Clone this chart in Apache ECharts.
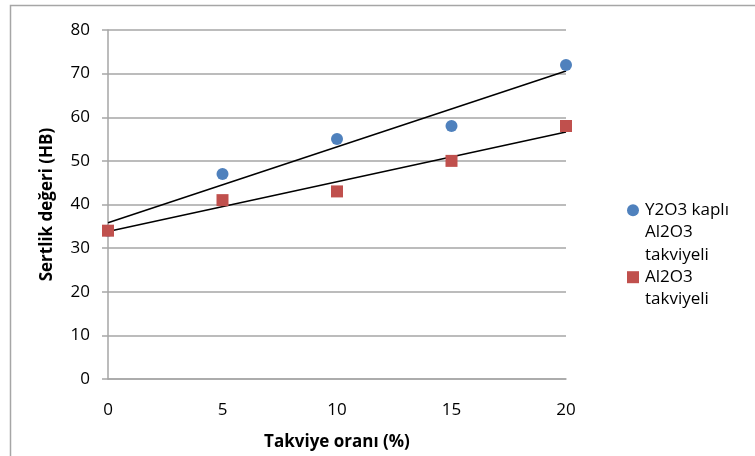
<!DOCTYPE html>
<html>
<head>
<meta charset="utf-8">
<script src="https://cdn.jsdelivr.net/npm/echarts@6/dist/echarts.min.js"></script>
<style>
  html, body { margin: 0; padding: 0; background: #fff; }
  #chart { width: 755px; height: 456px; }
</style>
</head>
<body>
<div id="chart"></div>
<script>
// Reinforcement ratio (%) on the x axis
const oran = [0, 5, 10, 15, 20];
// Hardness values (HB) for each composite
const y2o3Kapli = [34, 47, 55, 58, 72];
const al2o3 = [34, 41, 43, 50, 58];
const seriesNames = ['Y2O3 kaplı\nAl2O3\ntakviyeli', 'Al2O3\ntakviyeli'];
const colors = ['#4f81bd', '#c0504d'];

// Least-squares linear trend line through a series
function trend(xs, ys) {
  const n = xs.length;
  const mx = xs.reduce((a, b) => a + b, 0) / n;
  const my = ys.reduce((a, b) => a + b, 0) / n;
  let sxy = 0, sxx = 0;
  for (let i = 0; i < n; i++) {
    sxy += (xs[i] - mx) * (ys[i] - my);
    sxx += (xs[i] - mx) * (xs[i] - mx);
  }
  const b = sxy / sxx, a = my - b * mx;
  const x0 = Math.min(...xs), x1 = Math.max(...xs);
  return [[x0, a + b * x0], [x1, a + b * x1]];
}

const pairs = ys => oran.map((x, i) => [x, ys[i]]);
const font = '"Open Sans", "Liberation Sans", sans-serif';
const LH = 22.4;

// Legend: marker beside the first line of each multi-line entry
function legendEntry(top, name, color, shape) {
  const marker = shape === 'circle'
    ? { type: 'circle', shape: { cx: 633, cy: top + LH / 2, r: 6 }, style: { fill: color } }
    : { type: 'rect', shape: { x: 627, y: top + LH / 2 - 6, width: 12, height: 12 }, style: { fill: color } };
  return [marker, {
    type: 'text', left: 645, top: top,
    style: { text: name, font: '17px ' + font, fill: '#000', lineHeight: LH }
  }];
}

const chart = echarts.init(document.getElementById('chart'), null, { renderer: 'canvas' });
chart.setOption({
  animation: false,
  backgroundColor: '#fff',
  graphic: [{
    type: 'rect',
    shape: { x: 10.5, y: 5.5, width: 760, height: 470 },
    style: { fill: 'none', stroke: '#a6a6a6', lineWidth: 1.5 },
    silent: true
  }].concat(
    legendEntry(199, seriesNames[0], colors[0], 'circle'),
    legendEntry(266, seriesNames[1], colors[1], 'rect')
  ),
  grid: { left: 108, top: 30, width: 458, height: 351 },
  xAxis: {
    type: 'value', min: 0, max: 20, interval: 5,
    name: 'Takviye oranı (%)', nameLocation: 'middle', nameGap: 55,
    nameTextStyle: { fontFamily: font, fontSize: 17, fontWeight: 'bold', color: '#000' },
    axisLine: { show: true, lineStyle: { color: '#a6a6a6', width: 1.5 } },
    axisTick: { show: false },
    axisLabel: { fontFamily: font, fontSize: 17, color: '#000', margin: 23 },
    splitLine: { show: false }
  },
  yAxis: {
    type: 'value', min: 0, max: 80, interval: 10,
    name: 'Sertlik değeri (HB)', nameLocation: 'middle', nameGap: 52,
    nameTextStyle: { fontFamily: font, fontSize: 17, fontWeight: 'bold', color: '#000' },
    axisLine: { show: true, lineStyle: { color: '#a6a6a6', width: 1.5 } },
    axisTick: { show: true, length: 6, lineStyle: { color: '#a6a6a6', width: 1.5 } },
    axisLabel: { fontFamily: font, fontSize: 17, color: '#000', margin: 18 },
    splitLine: { show: true, lineStyle: { color: '#a6a6a6', width: 1.5 } }
  },
  series: [
    {
      type: 'line', data: trend(oran, y2o3Kapli), symbol: 'none',
      lineStyle: { color: '#000', width: 1.5 }, z: 2, silent: true
    },
    {
      type: 'line', data: trend(oran, al2o3), symbol: 'none',
      lineStyle: { color: '#000', width: 1.5 }, z: 2, silent: true
    },
    {
      name: seriesNames[0], type: 'scatter', data: pairs(y2o3Kapli),
      symbol: 'circle', symbolSize: 12,
      itemStyle: { color: colors[0], opacity: 1 }, z: 3
    },
    {
      name: seriesNames[1], type: 'scatter', data: pairs(al2o3),
      symbol: 'rect', symbolSize: 12,
      itemStyle: { color: colors[1], opacity: 1 }, z: 4
    }
  ]
});
</script>
</body>
</html>
